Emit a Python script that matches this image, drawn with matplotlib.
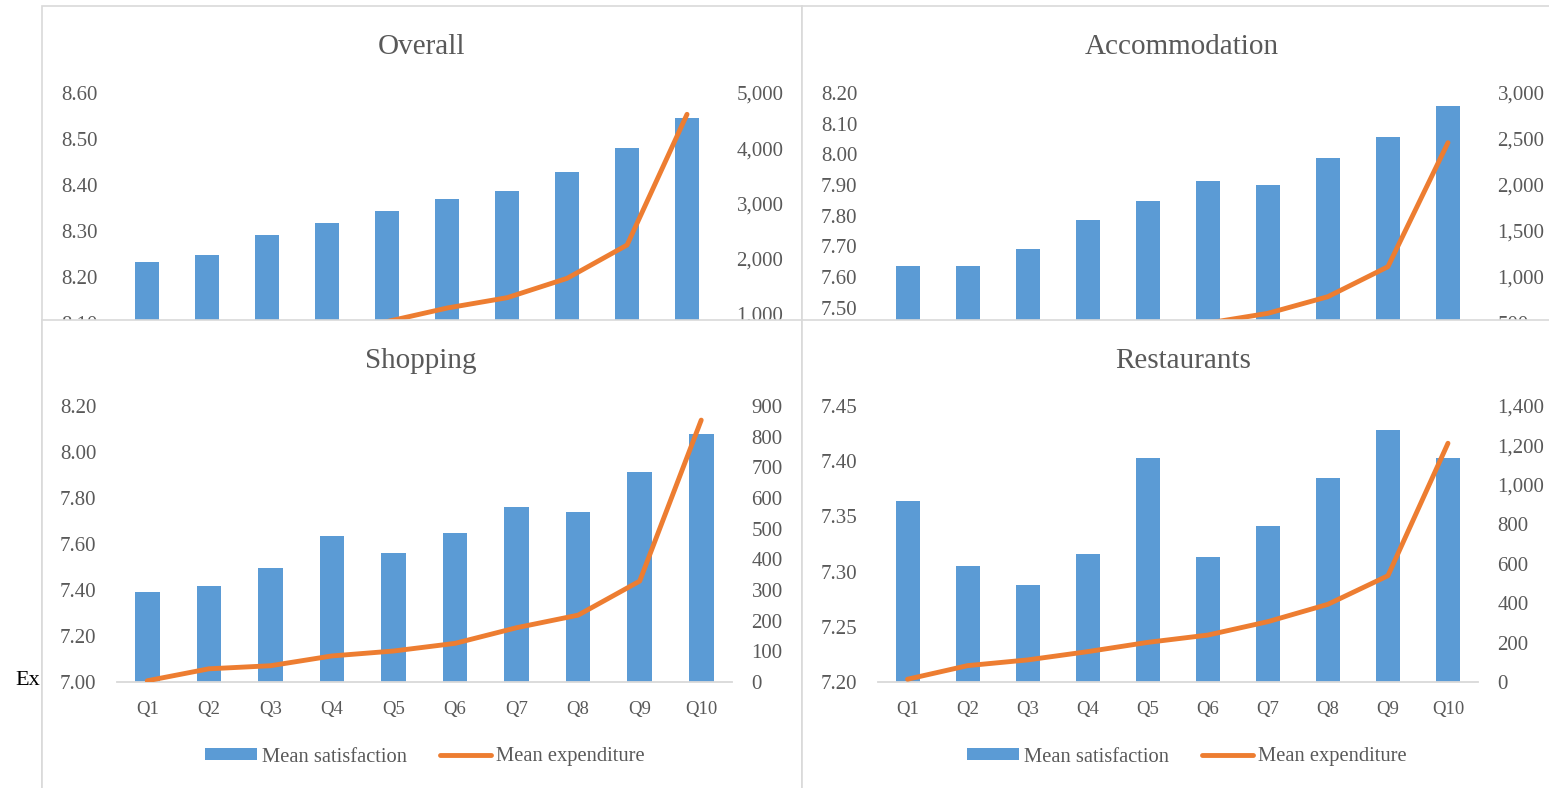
import numpy as np
import matplotlib
matplotlib.use("Agg")
import matplotlib.pyplot as plt
from matplotlib.patches import Rectangle, Patch
from matplotlib.lines import Line2D
from matplotlib.ticker import FuncFormatter

plt.rcParams["font.family"] = ["Liberation Serif", "DejaVu Serif"]

W, H = 1549, 788
BLUE = "#5B9BD5"
ORANGE = "#ED7D31"
TEXT = "#595959"
GRID = "#D9D9D9"

quantiles = ["Q1", "Q2", "Q3", "Q4", "Q5", "Q6", "Q7", "Q8", "Q9", "Q10"]

overall_satisfaction = [8.233, 8.248, 8.291, 8.317, 8.344, 8.369, 8.387, 8.429, 8.480, 8.545]
overall_expenditure = [230, 430, 580, 720, 860, 1105, 1292, 1643, 2246, 4614]

accommodation_satisfaction = [7.636, 7.636, 7.691, 7.785, 7.847, 7.912, 7.900, 7.988, 8.056, 8.157]
accommodation_expenditure = [150, 240, 310, 380, 440, 499, 605, 786, 1112, 2460]

shopping_satisfaction = [7.390, 7.417, 7.496, 7.635, 7.562, 7.648, 7.762, 7.739, 7.913, 8.077]
shopping_expenditure = [4, 43, 53, 85, 101, 126, 177, 218, 329, 854]

restaurants_satisfaction = [7.364, 7.305, 7.288, 7.316, 7.403, 7.313, 7.341, 7.385, 7.428, 7.403]
restaurants_expenditure = [14, 83, 112, 154, 201, 238, 306, 394, 539, 1211]


def px_rect(left, top, right, bottom):
    # pixel box (origin top-left) -> figure fraction [l, b, w, h]
    return [left / W, 1 - bottom / H, (right - left) / W, (bottom - top) / H]


def add_panel(fig, left, top, right, z):
    fig.add_artist(Rectangle((left / W, -0.1), (right - left) / W, 1.1 - top / H,
                             transform=fig.transFigure, facecolor="white",
                             edgecolor=GRID, linewidth=1.2, zorder=z))


def draw_chart(fig, box, title, title_xy, sat, exp, left_ticks, right_ticks, z, legend_x=None):
    ax = fig.add_axes(px_rect(*box))
    ax.set_zorder(z)
    ax.patch.set_visible(False)
    x = np.arange(len(quantiles))
    ax.bar(x, sat, width=0.4, color=BLUE, bottom=0)
    ax.set_xlim(-0.5, len(quantiles) - 0.5)
    ax.set_ylim(left_ticks[0], left_ticks[-1])
    ax.set_yticks(left_ticks)
    ax.yaxis.set_major_formatter(FuncFormatter(lambda v, p: f"{v:.2f}"))
    ax.set_xticks(x)
    ax.set_xticklabels(quantiles)
    for s in ["top", "left", "right"]:
        ax.spines[s].set_visible(False)
    ax.spines["bottom"].set_color(GRID)
    ax.spines["bottom"].set_linewidth(1.3)
    ax.tick_params(axis="y", length=0, pad=14.5, labelsize=15, labelcolor=TEXT)
    ax.tick_params(axis="x", length=0, pad=14, labelsize=13.5, labelcolor=TEXT)

    ax2 = ax.twinx()
    ax2.set_zorder(z + 0.1)
    ax2.patch.set_visible(False)
    ax2.plot(x, exp, color=ORANGE, linewidth=3.5, solid_capstyle="round",
             solid_joinstyle="round")
    ax2.set_ylim(right_ticks[0], right_ticks[-1])
    ax2.set_yticks(right_ticks)
    ax2.yaxis.set_major_formatter(FuncFormatter(lambda v, p: f"{v:,.0f}"))
    for s in ax2.spines.values():
        s.set_visible(False)
    ax2.tick_params(axis="y", length=0, pad=14, labelsize=15, labelcolor=TEXT)

    fig.text(title_xy[0] / W, 1 - title_xy[1] / H, title, ha="center", va="baseline",
             fontsize=21, color=TEXT, zorder=z)

    if legend_x is not None:
        handles = [Patch(facecolor=BLUE, edgecolor="none"),
                   Line2D([], [], color=ORANGE, linewidth=3.5, solid_capstyle="round")]
        leg = fig.legend(handles, ["Mean satisfaction", "Mean expenditure"], ncol=2,
                         loc="center", bbox_to_anchor=(legend_x / W, 1 - 757 / H),
                         frameon=False, fontsize=14.8, handlelength=2.5,
                         handleheight=0.55, handletextpad=0.25, columnspacing=1.6,
                         labelcolor=TEXT)
        leg.set_zorder(z)
    return ax, ax2


def main():
    fig = plt.figure(figsize=(W / 100, H / 100), dpi=100)

    # upper row of charts
    add_panel(fig, 42, 6.5, 802, -1)
    add_panel(fig, 802, 6.5, 1570, -1)
    draw_chart(fig, (117.5, 93, 717, 369), "Overall", (421, 54),
               overall_satisfaction, overall_expenditure,
               np.round(np.arange(8.0, 8.61, 0.1), 2), np.arange(0, 5001, 1000), 0)
    draw_chart(fig, (877.5, 93, 1478, 369), "Accommodation", (1182, 54),
               accommodation_satisfaction, accommodation_expenditure,
               np.round(np.arange(7.3, 8.21, 0.1), 2), np.arange(0, 3001, 500), 0)

    # lower row sits on top of the upper row
    add_panel(fig, 42, 320, 802, 1)
    add_panel(fig, 802, 320, 1570, 1)
    draw_chart(fig, (116.5, 406, 732, 682), "Shopping", (421, 367.5),
               shopping_satisfaction, shopping_expenditure,
               np.round(np.arange(7.0, 8.21, 0.2), 2), np.arange(0, 901, 100), 2,
               legend_x=425)
    draw_chart(fig, (877.5, 406, 1478, 682), "Restaurants", (1183, 367.5),
               restaurants_satisfaction, restaurants_expenditure,
               np.round(np.arange(7.2, 7.451, 0.05), 2), np.arange(0, 1401, 200), 2,
               legend_x=1187)

    fig.text(15 / W, 1 - 685 / H, "Ex", fontsize=16, color="black", va="baseline", zorder=3)

    fig.savefig("out.png", dpi=100, facecolor="white")


if __name__ == "__main__":
    main()
